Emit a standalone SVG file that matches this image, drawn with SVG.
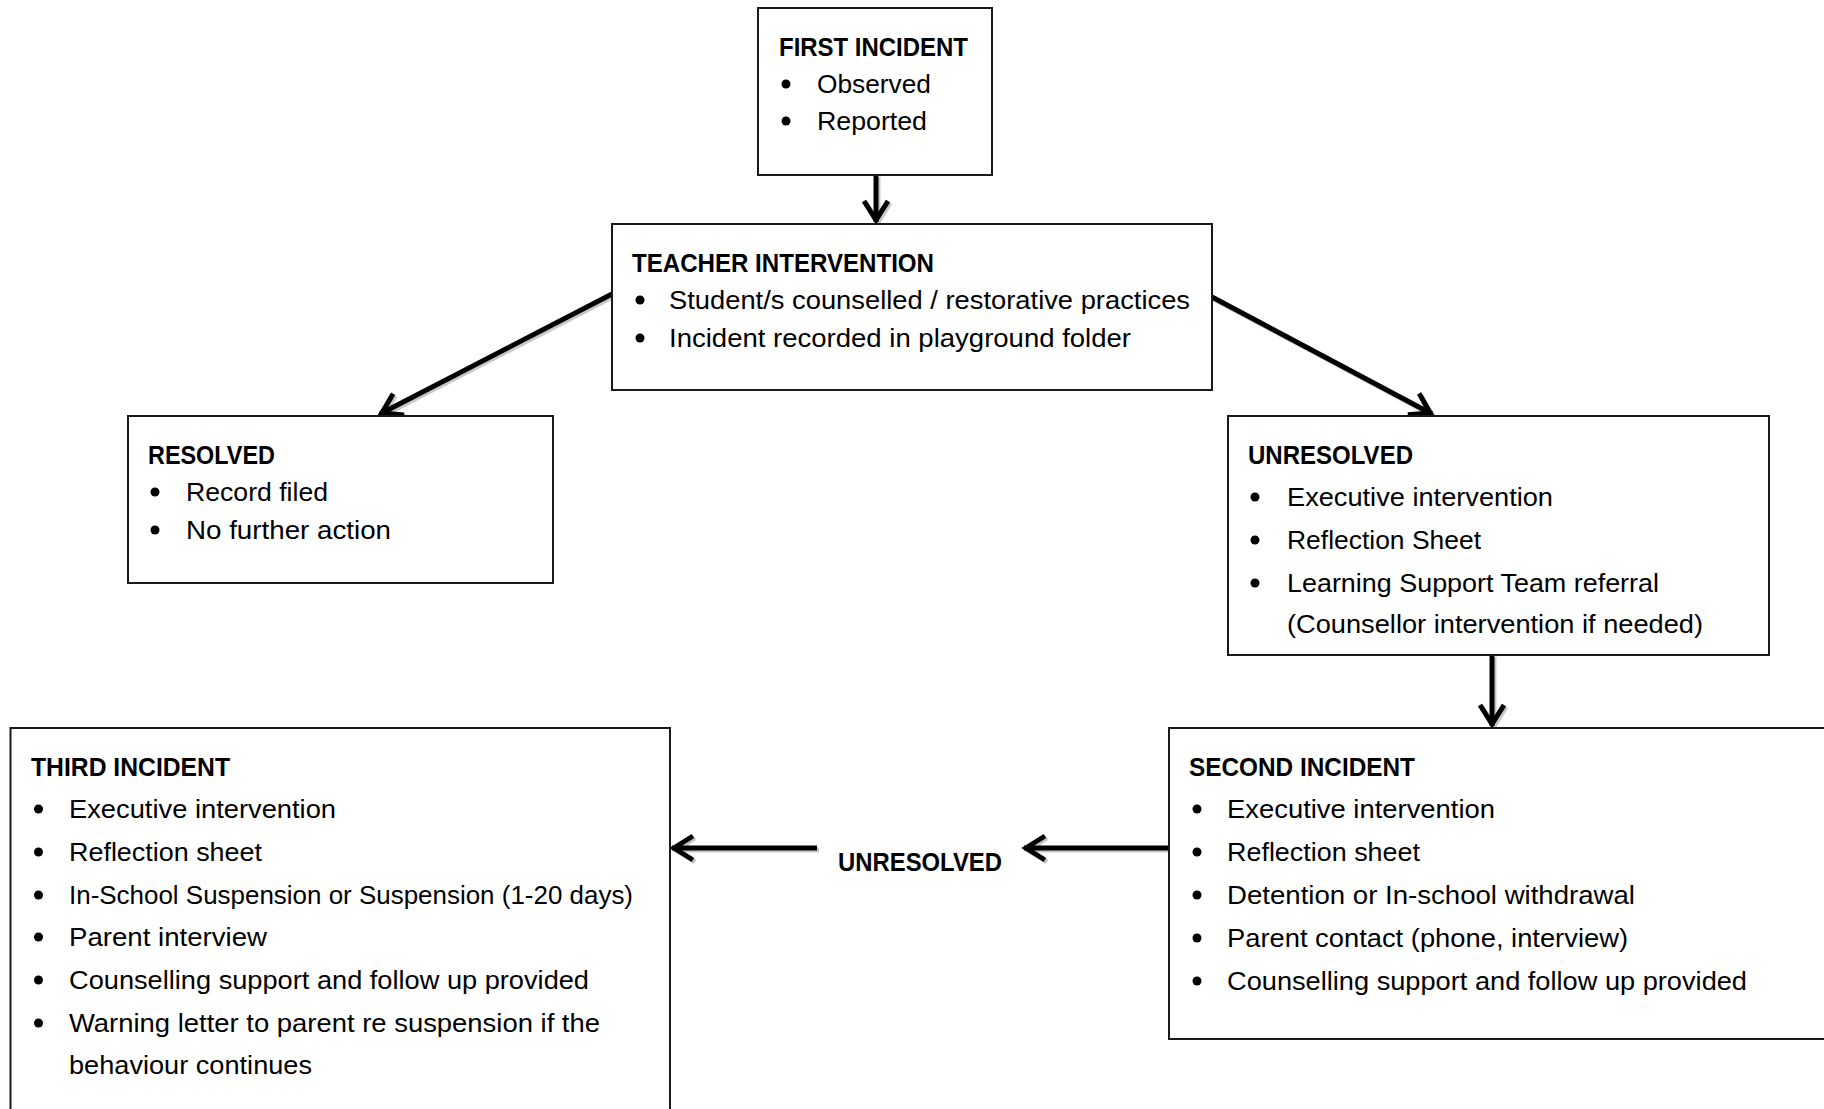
<svg xmlns="http://www.w3.org/2000/svg" width="1824" height="1109" viewBox="0 0 1824 1109">
<style>
.box{fill:#fff;stroke:#1a1a1a;stroke-width:2}
.t{font-family:"Liberation Sans",Arial,sans-serif;font-size:26px;fill:#000}
.h{font-weight:bold}
.b{fill:#000}
.ln{stroke:#000;stroke-width:5;fill:none}
.sh{stroke:#c8c8c8;stroke-width:5;fill:none}
</style>
<defs>
<marker id="ah" markerUnits="userSpaceOnUse" markerWidth="40" markerHeight="40" refX="0" refY="0" viewBox="-30 -20 40 40" orient="auto" overflow="visible">
<path d="M-21,-12 L-2,0 L-21,12" fill="none" stroke="#000" stroke-width="5"/>
</marker>
<marker id="ahs" markerUnits="userSpaceOnUse" markerWidth="40" markerHeight="40" refX="0" refY="0" viewBox="-30 -20 40 40" orient="auto" overflow="visible">
<path d="M-21,-12 L-2,0 L-21,12" fill="none" stroke="#c8c8c8" stroke-width="5"/>
</marker>
</defs>
<rect width="1824" height="1109" fill="#fff"/>

<g id="connectors">
<g transform="translate(2,2)">
<path class="sh" d="M876,175 L876,222" marker-end="url(#ahs)"/>
<path class="sh" d="M612,294 L380,414" marker-end="url(#ahs)"/>
<path class="sh" d="M1212,297 L1432,414" marker-end="url(#ahs)"/>
<path class="sh" d="M1492,655 L1492,726" marker-end="url(#ahs)"/>
<path class="sh" d="M1169,848 L1024,848" marker-end="url(#ahs)"/>
<path class="sh" d="M817,848 L672,848" marker-end="url(#ahs)"/>
</g>
<path class="ln" d="M876,175 L876,222" marker-end="url(#ah)"/>
<path class="ln" d="M612,294 L380,414" marker-end="url(#ah)"/>
<path class="ln" d="M1212,297 L1432,414" marker-end="url(#ah)"/>
<path class="ln" d="M1492,655 L1492,726" marker-end="url(#ah)"/>
<path class="ln" d="M1169,848 L1024,848" marker-end="url(#ah)"/>
<path class="ln" d="M817,848 L672,848" marker-end="url(#ah)"/>
<text class="t h" x="838" y="871" textLength="164" lengthAdjust="spacingAndGlyphs">UNRESOLVED</text>
</g>

<g id="first-incident">
<rect class="box" x="758" y="8" width="234" height="167"/>
<text class="t h" x="779" y="56" textLength="189" lengthAdjust="spacingAndGlyphs">FIRST INCIDENT</text>
<circle class="b" cx="786" cy="84" r="4.5"/>
<text class="t" x="817" y="93" textLength="114" lengthAdjust="spacingAndGlyphs">Observed</text>
<circle class="b" cx="786" cy="121" r="4.5"/>
<text class="t" x="817" y="130" textLength="110" lengthAdjust="spacingAndGlyphs">Reported</text>
</g>

<g id="teacher-intervention">
<rect class="box" x="612" y="224" width="600" height="166"/>
<text class="t h" x="632" y="272" textLength="302" lengthAdjust="spacingAndGlyphs">TEACHER INTERVENTION</text>
<circle class="b" cx="640" cy="300" r="4.5"/>
<text class="t" x="669" y="309" textLength="521" lengthAdjust="spacingAndGlyphs">Student/s counselled / restorative practices</text>
<circle class="b" cx="640" cy="338" r="4.5"/>
<text class="t" x="669" y="347" textLength="462" lengthAdjust="spacingAndGlyphs">Incident recorded in playground folder</text>
</g>

<g id="resolved">
<rect class="box" x="128" y="416" width="425" height="167"/>
<text class="t h" x="148" y="464" textLength="127" lengthAdjust="spacingAndGlyphs">RESOLVED</text>
<circle class="b" cx="155" cy="492" r="4.5"/>
<text class="t" x="186" y="501" textLength="142" lengthAdjust="spacingAndGlyphs">Record filed</text>
<circle class="b" cx="155" cy="530" r="4.5"/>
<text class="t" x="186" y="539" textLength="205" lengthAdjust="spacingAndGlyphs">No further action</text>
</g>

<g id="unresolved">
<rect class="box" x="1228" y="416" width="541" height="239"/>
<text class="t h" x="1248" y="464" textLength="165" lengthAdjust="spacingAndGlyphs">UNRESOLVED</text>
<circle class="b" cx="1255" cy="497" r="4.5"/>
<text class="t" x="1287" y="506" textLength="266" lengthAdjust="spacingAndGlyphs">Executive intervention</text>
<circle class="b" cx="1255" cy="540" r="4.5"/>
<text class="t" x="1287" y="549" textLength="194" lengthAdjust="spacingAndGlyphs">Reflection Sheet</text>
<circle class="b" cx="1255" cy="583" r="4.5"/>
<text class="t" x="1287" y="592" textLength="372" lengthAdjust="spacingAndGlyphs">Learning Support Team referral</text>
<text class="t" x="1287" y="633" textLength="416" lengthAdjust="spacingAndGlyphs">(Counsellor intervention if needed)</text>
</g>

<g id="second-incident">
<rect class="box" x="1169" y="728" width="670" height="311"/>
<text class="t h" x="1189" y="776" textLength="226" lengthAdjust="spacingAndGlyphs">SECOND INCIDENT</text>
<circle class="b" cx="1197" cy="809" r="4.5"/>
<text class="t" x="1227" y="818" textLength="268" lengthAdjust="spacingAndGlyphs">Executive intervention</text>
<circle class="b" cx="1197" cy="852" r="4.5"/>
<text class="t" x="1227" y="861" textLength="193" lengthAdjust="spacingAndGlyphs">Reflection sheet</text>
<circle class="b" cx="1197" cy="895" r="4.5"/>
<text class="t" x="1227" y="904" textLength="408" lengthAdjust="spacingAndGlyphs">Detention or In-school withdrawal</text>
<circle class="b" cx="1197" cy="938" r="4.5"/>
<text class="t" x="1227" y="947" textLength="401" lengthAdjust="spacingAndGlyphs">Parent contact (phone, interview)</text>
<circle class="b" cx="1197" cy="981" r="4.5"/>
<text class="t" x="1227" y="990" textLength="520" lengthAdjust="spacingAndGlyphs">Counselling support and follow up provided</text>
</g>

<g id="third-incident">
<rect class="box" x="10.5" y="728" width="659.5" height="400"/>
<text class="t h" x="31" y="776" textLength="199" lengthAdjust="spacingAndGlyphs">THIRD INCIDENT</text>
<circle class="b" cx="38.5" cy="809" r="4.5"/>
<text class="t" x="69" y="818" textLength="267" lengthAdjust="spacingAndGlyphs">Executive intervention</text>
<circle class="b" cx="38.5" cy="852" r="4.5"/>
<text class="t" x="69" y="861" textLength="193" lengthAdjust="spacingAndGlyphs">Reflection sheet</text>
<circle class="b" cx="38.5" cy="895" r="4.5"/>
<text class="t" x="69" y="904" textLength="564" lengthAdjust="spacingAndGlyphs">In-School Suspension or Suspension (1-20 days)</text>
<circle class="b" cx="38.5" cy="937" r="4.5"/>
<text class="t" x="69" y="946" textLength="198" lengthAdjust="spacingAndGlyphs">Parent interview</text>
<circle class="b" cx="38.5" cy="980" r="4.5"/>
<text class="t" x="69" y="989" textLength="520" lengthAdjust="spacingAndGlyphs">Counselling support and follow up provided</text>
<circle class="b" cx="38.5" cy="1023" r="4.5"/>
<text class="t" x="69" y="1032" textLength="531" lengthAdjust="spacingAndGlyphs">Warning letter to parent re suspension if the</text>
<text class="t" x="69" y="1074" textLength="243" lengthAdjust="spacingAndGlyphs">behaviour continues</text>
</g>
</svg>
